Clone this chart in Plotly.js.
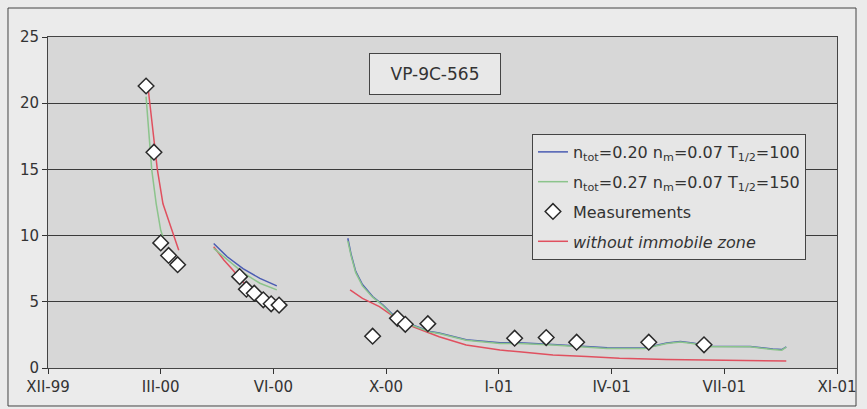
<!DOCTYPE html>
<html>
<head>
<meta charset="utf-8">
<script src="https://cdn.plot.ly/plotly-3.0.1.min.js"></script>
<style>html,body{margin:0;padding:0;background:#ebebeb;}</style>
</head>
<body>
<div id="chart" style="width:867px;height:409px;"></div>
<script>
// Axis ticks (100-day Excel-style spacing)
const tickDates = ['1999-12-07','2000-03-16','2000-06-24','2000-10-02','2001-01-10','2001-04-20','2001-07-29','2001-11-06'];
const tickLabels = ['XII-99','III-00','VI-00','X-00','I-01','IV-01','VII-01','XI-01'];
const yTicks = [0,5,10,15,20,25];

// Measurements
const measDates = ['2000-03-03','2000-03-10','2000-03-16','2000-03-23','2000-03-31',
  '2000-05-25','2000-05-31','2000-06-07','2000-06-15','2000-06-22','2000-06-29',
  '2000-09-20','2000-10-12','2000-10-19','2000-11-08',
  '2001-01-24','2001-02-21','2001-03-20','2001-05-23','2001-07-11'];
const measValues = [21.3,16.3,9.45,8.5,7.8,
  6.9,5.95,5.65,5.15,4.85,4.75,
  2.4,3.75,3.3,3.35,
  2.25,2.3,1.95,1.95,1.75];

// n_tot=0.20 n_m=0.07 T1/2=100 (blue)
const blueDates = ['2000-05-02','2000-05-14','2000-05-28','2000-06-12','2000-06-27',null,
  '2000-08-29','2000-09-01','2000-09-05','2000-09-11','2000-09-20','2000-09-29','2000-10-08','2000-10-17','2000-10-29','2000-11-10','2000-11-18','2000-12-12',
  '2001-01-11','2001-01-28','2001-02-27','2001-03-29','2001-04-16','2001-05-19','2001-06-08','2001-06-20','2001-07-01','2001-07-16','2001-08-21','2001-09-10','2001-09-18','2001-09-22'];
const blueValues = [9.4,8.4,7.5,6.77,6.2,null,
  9.8,8.55,7.3,6.3,5.4,4.78,4.02,3.52,3.14,2.76,2.64,2.13,
  1.9,1.9,1.78,1.65,1.53,1.52,1.88,2.0,1.88,1.64,1.63,1.44,1.39,1.6];

// n_tot=0.27 n_m=0.07 T1/2=150 (green)
const greenDates = ['2000-03-03','2000-03-06','2000-03-08','2000-03-12','2000-03-16','2000-03-18',null,
  '2000-05-02','2000-05-14','2000-05-28','2000-06-12','2000-06-27',null,
  '2000-08-29','2000-09-01','2000-09-05','2000-09-11','2000-09-20','2000-09-29','2000-10-08','2000-10-17','2000-10-29','2000-11-10','2000-11-18','2000-12-12',
  '2001-01-11','2001-01-28','2001-02-27','2001-03-29','2001-04-16','2001-05-19','2001-06-08','2001-06-20','2001-07-01','2001-07-16','2001-08-21','2001-09-10','2001-09-18','2001-09-22'];
const greenValues = [20.5,17.5,15.0,12.4,10.4,9.9,null,
  9.04,8.16,7.2,6.4,5.9,null,
  9.6,8.45,7.2,6.2,5.35,4.72,3.95,3.47,3.1,2.72,2.6,2.1,
  1.85,1.85,1.73,1.6,1.48,1.48,1.85,1.97,1.85,1.6,1.6,1.4,1.35,1.58];

// without immobile zone (red)
const redDates = ['2000-03-05','2000-03-10','2000-03-13','2000-03-18','2000-03-24','2000-04-01',null,
  '2000-05-02','2000-05-11','2000-05-19','2000-05-28','2000-06-08','2000-06-21',null,
  '2000-08-31','2000-09-11','2000-09-26','2000-10-11','2000-10-26','2000-11-18','2000-12-12','2000-12-31',
  '2001-01-11','2001-01-28','2001-02-27','2001-03-29','2001-04-27','2001-06-08','2001-08-06','2001-09-22'];
const redValues = [21.0,17.5,15.0,12.4,10.9,8.9,null,
  9.16,8.16,7.4,6.5,5.6,4.9,null,
  5.9,5.26,4.63,3.75,3.12,2.36,1.74,1.49,
  1.36,1.23,0.98,0.86,0.73,0.65,0.6,0.53];

const FONT = 'DejaVu Sans, Liberation Sans, Arial, sans-serif';

const traces = [
  {x: redDates, y: redValues, type:'scatter', mode:'lines', name:'<i>without immobile zone</i>',
   line:{color:'#e0505f', width:1.5}, connectgaps:false, legendrank:4, legendgroup:'d'},
  {x: blueDates, y: blueValues, type:'scatter', mode:'lines', name:'n<sub>tot</sub>=0.20 n<sub>m</sub>=0.07 T<sub>1/2</sub>=100',
   line:{color:'#4a5cb2', width:1.5}, connectgaps:false, legendrank:1, legendgroup:'a'},
  {x: greenDates, y: greenValues, type:'scatter', mode:'lines', name:'n<sub>tot</sub>=0.27 n<sub>m</sub>=0.07 T<sub>1/2</sub>=150',
   line:{color:'#8cc48c', width:1.5}, connectgaps:false, legendrank:2, legendgroup:'b'},
  {x: measDates, y: measValues, type:'scatter', mode:'markers', name:'Measurements',
   marker:{symbol:'diamond', size:12, color:'#ffffff', line:{color:'#2a2a2a', width:1.5}}, legendrank:3, legendgroup:'c'}
];

const layout = {
  width: 867, height: 409,
  margin: {l:48, r:30, t:37, b:41},
  paper_bgcolor: '#ebebeb',
  plot_bgcolor: '#d7d7d7',
  font: {family: FONT, color:'#333', size:15},
  showlegend: true,
  legend: {
    x: 0.6134, y: 0.707, xanchor:'left', yanchor:'top',
    bgcolor:'#e6e6e6', bordercolor:'#444', borderwidth:1,
    font:{family: FONT, size:16, color:'#333'},
    traceorder:'grouped', tracegroupgap: 6, itemwidth: 30
  },
  xaxis: {
    type:'date', range:[tickDates[0], tickDates[tickDates.length-1]],
    tickmode:'array', tickvals: tickDates, ticktext: tickLabels,
    ticks:'outside', ticklen:5, tickcolor:'#333',
    showgrid:false, zeroline:false,
    showline:true, linecolor:'#444', linewidth:1, mirror:true,
    tickfont:{family: FONT, size:15, color:'#333'}
  },
  yaxis: {
    range:[0,25], tickmode:'array', tickvals: yTicks,
    ticks:'outside', ticklen:5, tickcolor:'#333',
    showgrid:true, gridcolor:'#3a3a3a', gridwidth:1,
    zeroline:false,
    showline:true, linecolor:'#444', linewidth:1, mirror:true,
    tickfont:{family: FONT, size:15, color:'#333'}
  },
  annotations: [{
    xref:'paper', yref:'paper', x:0.4905, y:0.887, xanchor:'center', yanchor:'middle',
    text:'VP-9C-565', showarrow:false,
    font:{family: FONT, size:17, color:'#333'},
    bgcolor:'#e8e8e8', bordercolor:'#444', borderwidth:1,
    width:128, height:38
  }],
  shapes: [{
    type:'rect', xref:'paper', yref:'paper',
    x0:-0.0507, x1:1.0241, y0:-0.1148, y1:1.0876,
    line:{color:'#444', width:1}, fillcolor:'rgba(0,0,0,0)', layer:'below'
  }]
};

Plotly.newPlot('chart', traces, layout, {displayModeBar:false, staticPlot:true});
</script>
</body>
</html>
